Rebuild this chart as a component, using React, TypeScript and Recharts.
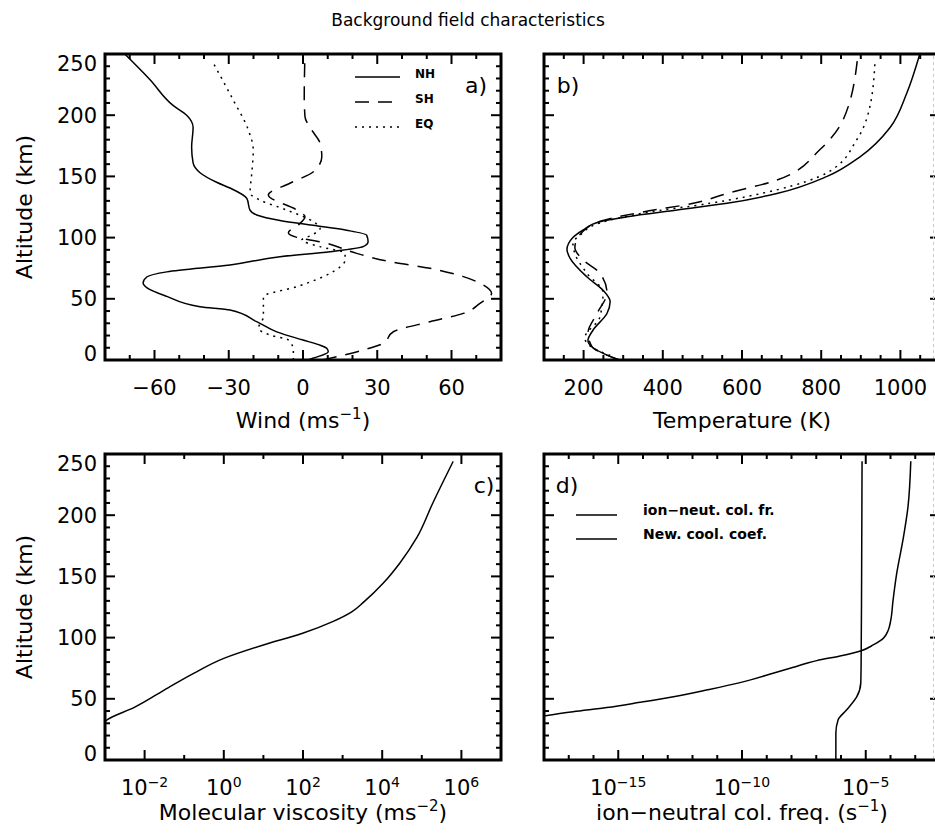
import React from "react";
import { LineChart, Line, XAxis, YAxis, ReferenceArea } from "recharts";

// a) zonal wind (m/s) against altitude (km)
const nhAlt = [0, 1.4, 6.8, 9.5, 12, 16.3, 23, 31.3, 40.8, 43.6, 52, 59, 63, 68, 72, 77.6, 84.4, 88.5, 92.6, 96.7, 102, 106, 110, 114, 118.5, 122.5, 132, 140.5, 145, 153, 161, 174, 190, 200, 208, 229, 250];
const nhWind = [2, 4, 10.2, 9.6, 7, 0, -10.6, -18.7, -29.5, -41.6, -55, -63, -64.6, -63, -55, -29.5, -9.3, 11, 24.3, 26.3, 25.7, 17.6, 4, -9.3, -18.7, -21.4, -22.7, -29.5, -34.7, -41.6, -44.4, -45, -44.4, -47, -52.5, -61.8, -72];
const shAlt = [0, 1.4, 8.2, 13.6, 23.1, 31.3, 38.1, 46.3, 54.5, 61.3, 68.1, 74.9, 80.3, 87.1, 96.6, 100.2, 104, 110.3, 117, 122.5, 134.8, 144.4, 153.8, 166, 177, 188, 198.8, 215, 250];
const shWind = [8, 11, 24.4, 32.4, 36.5, 51.3, 64.8, 71.5, 76.2, 72.8, 64.8, 51.3, 35.2, 21.7, 6.9, -2.5, -5.9, -1.9, 0.8, -2.5, -14, -5.3, 4.2, 7.6, 6.9, 3.5, 0.8, 0.5, 0.8];
const eqAlt = [0, 1.4, 8.2, 16.3, 20.4, 25.9, 35.4, 51.7, 59.9, 70.8, 81.7, 87.1, 92.6, 98, 102, 107.5, 113, 122.5, 130.7, 136.2, 152.5, 171.6, 188, 212.4, 242.4];
const eqWind = [-4, -3.9, -3.9, -5.9, -13.3, -18, -16, -16, -2.5, 10.9, 17, 17, 6.9, -0.5, 3.5, 6.9, 4.2, -6.6, -17.4, -21.4, -20.7, -20.1, -22.1, -28.2, -36.2];

// b) temperature (K)
const nhTAlt = [0, 4, 10, 16, 24.5, 38, 47.6, 57, 68, 83, 90, 100, 106, 113, 117, 122.5, 128, 136, 150, 166, 190, 218, 250];
const nhTemp = [290, 259, 224, 211, 224, 259, 267, 249, 208, 166, 158, 173, 198, 241, 310, 436, 562, 688, 815, 898, 974, 1016, 1049];
const shTAlt = [0, 4, 11, 22, 38, 55, 71, 82, 92, 105, 114, 121, 128, 136, 147, 172, 196, 250];
const shTemp = [290, 259, 221, 211, 234, 259, 241, 198, 178, 198, 249, 350, 477, 562, 688, 797, 855, 893];
const eqTAlt = [0, 2.5, 8, 18, 35, 55, 71, 87, 95.5, 102, 112, 120, 128, 139, 153, 180, 207, 245];
const eqTemp = [280, 274, 234, 203, 241, 249, 208, 178, 173, 191, 241, 350, 519, 688, 815, 890, 923, 936];

// c) molecular viscosity
const viscAlt = [30, 33, 43, 59, 71, 83, 94, 103.5, 113, 121, 129, 144.6, 161, 182, 210, 244];
const viscosity = [8.9e-4, 1.15e-3, 5.5e-3, 0.039, 0.178, 1.0, 10, 98, 560, 1700, 3400, 1.07e4, 2.8e4, 7.6e4, 1.9e5, 6.2e5];

// d) ion-neutral collision frequency and Newtonian cooling coefficient
const ionAlt = [0, 22, 32.7, 41, 51.5, 63, 79, 147, 244];
const ionFreq = [6.2e-7, 6.2e-7, 7.6e-7, 1.7e-6, 4.3e-6, 6.3e-6, 6.5e-6, 6.8e-6, 7.1e-6];
const coolAlt = [34, 39.5, 42.8, 47.1, 51.7, 57.2, 63.2, 70.8, 75.7, 79, 81.2, 85, 89.3, 94, 99.4, 106, 114, 130, 153, 180, 207, 244];
const coolCoef = [2.5e-19, 1.5e-17, 3.4e-16, 7.6e-15, 1.7e-13, 3.7e-12, 8.3e-11, 1.8e-9, 1.2e-8, 4.1e-8, 1.05e-7, 9.1e-7, 6.6e-6, 2.0e-5, 5.1e-5, 8.1e-5, 1.02e-4, 1.26e-4, 1.8e-4, 3.2e-4, 5.1e-4, 6.6e-4];

// ticks
const altTicks = [0, 10, 20, 30, 40, 50, 60, 70, 80, 90, 100, 110, 120, 130, 140, 150, 160, 170, 180, 190, 200, 210, 220, 230, 240, 250];
const altMajor = [0, 50, 100, 150, 200, 250];
const windTicks = [-70, -60, -50, -40, -30, -20, -10, 0, 10, 20, 30, 40, 50, 60, 70];
const windMajor = [-60, -30, 0, 30, 60];
const tempTicks = [150, 200, 250, 300, 350, 400, 450, 500, 550, 600, 650, 700, 750, 800, 850, 900, 950, 1000, 1050];
const tempMajor = [200, 400, 600, 800, 1000];
const viscTicks = [1e-2, 1e-1, 1, 1e1, 1e2, 1e3, 1e4, 1e5, 1e6];
const viscMajor = [1e-2, 1, 1e2, 1e4, 1e6];
const freqTicks = [1e-17, 1e-16, 1e-15, 1e-14, 1e-13, 1e-12, 1e-11, 1e-10, 1e-9, 1e-8, 1e-7, 1e-6, 1e-5, 1e-4, 1e-3];
const freqMajor = [1e-15, 1e-10, 1e-5];

const rows = (alt: number[], val: number[]) => alt.map((a, i) => ({ alt: a, v: val[i] }));

const PW = 396;
const PT = 54;
const PB = 360;
const CH = 430;

const minus = (n: number) => (n < 0 ? `\u2212${-n}` : `${n}`);

function XTick(props: any) {
  const { x, payload, left, majors, log } = props;
  const v = payload.value;
  const major = majors.some((m: number) => Math.abs(m - v) <= Math.abs(m) * 1e-6);
  const len = major ? 10 : 5;
  const edge = Math.abs(x - left) < 1 || Math.abs(x - (left + PW)) < 1;
  const exp = Math.round(Math.log10(v));
  return (
    <g>
      {!edge && <line x1={x} x2={x} y1={PB} y2={PB - len} stroke="#000" strokeWidth={2} />}
      {!edge && <line x1={x} x2={x} y1={PT} y2={PT + len} stroke="#000" strokeWidth={2} />}
      {major && (
        <text x={x} y={PB + 35} textAnchor="middle" fontSize={21} fill="#000">
          {log ? (
            <>
              <tspan>10</tspan>
              <tspan dy={-8} fontSize={14}>{minus(exp)}</tspan>
            </>
          ) : (
            minus(v)
          )}
        </text>
      )}
    </g>
  );
}

function YTick(props: any) {
  const { y, payload, left, labels } = props;
  const v = payload.value;
  const major = altMajor.includes(v);
  const len = major ? 10 : 5;
  const edge = v === 0 || v === 250;
  const nudge = v === 0 ? -7 : v === 250 ? 9 : 0;
  return (
    <g>
      {!edge && <line x1={left} x2={left + len} y1={y} y2={y} stroke="#000" strokeWidth={2} />}
      {!edge && <line x1={left + PW} x2={left + PW - len} y1={y} y2={y} stroke="#000" strokeWidth={2} />}
      {major && labels && (
        <text x={left - 8} y={y + 7.5 + nudge} textAnchor="end" fontSize={21} fill="#000">
          {v}
        </text>
      )}
    </g>
  );
}

type Series = { data: { alt: number; v: number }[]; dash?: string };

function Panel({
  left,
  labels,
  domain,
  ticks,
  majors,
  log,
  series,
}: {
  left: number;
  labels: boolean;
  domain: [number, number];
  ticks: number[];
  majors: number[];
  log?: boolean;
  series: Series[];
}) {
  const width = 520;
  return (
    <LineChart
      width={width}
      height={CH}
      layout="vertical"
      margin={{ top: PT, right: width - left - PW, bottom: 0, left: 0 }}
    >
      <XAxis
        type="number"
        dataKey="v"
        scale={log ? "log" : "linear"}
        domain={domain}
        allowDataOverflow
        ticks={ticks}
        interval={0}
        height={CH - PB}
        axisLine={false}
        tickLine={false}
        tick={(p: any) => <XTick {...p} left={left} majors={majors} log={log} />}
      />
      <YAxis
        type="number"
        dataKey="alt"
        domain={[0, 250]}
        reversed
        allowDataOverflow
        ticks={altTicks}
        interval={0}
        width={left}
        axisLine={false}
        tickLine={false}
        tick={(p: any) => <YTick {...p} left={left} labels={labels} />}
      />
      <ReferenceArea
        x1={domain[0]}
        x2={domain[1]}
        y1={0}
        y2={250}
        fill="none"
        fillOpacity={0}
        stroke="#000"
        strokeWidth={3}
        ifOverflow="visible"
      />
      {series.map((s, i) => (
        <Line
          key={i}
          data={s.data}
          dataKey="v"
          type="monotoneY"
          stroke="#000"
          strokeWidth={1.5}
          strokeDasharray={s.dash}
          dot={false}
          activeDot={false}
          isAnimationActive={false}
        />
      ))}
    </LineChart>
  );
}

const DASH = "14 9";
const DOT = "2 5";

export default function App() {
  const txt = { fill: "#000", fontFamily: '"DejaVu Sans", sans-serif' } as const;
  return (
    <div
      style={{
        position: "absolute",
        left: 0,
        top: 0,
        width: 935,
        height: 833,
        overflow: "hidden",
        background: "#fff",
        fontFamily: '"DejaVu Sans", sans-serif',
      }}
    >
      <div style={{ position: "absolute", left: 0, top: 0 }}>
        <Panel
          left={105}
          labels
          domain={[-80, 80]}
          ticks={windTicks}
          majors={windMajor}
          series={[
            { data: rows(nhAlt, nhWind) },
            { data: rows(shAlt, shWind), dash: DASH },
            { data: rows(eqAlt, eqWind), dash: DOT },
          ]}
        />
      </div>
      <div style={{ position: "absolute", left: 440, top: 0 }}>
        <Panel
          left={104}
          labels={false}
          domain={[100, 1100]}
          ticks={tempTicks}
          majors={tempMajor}
          series={[
            { data: rows(nhTAlt, nhTemp) },
            { data: rows(shTAlt, shTemp), dash: DASH },
            { data: rows(eqTAlt, eqTemp), dash: DOT },
          ]}
        />
      </div>
      <div style={{ position: "absolute", left: 0, top: 400 }}>
        <Panel
          left={105}
          labels
          log
          domain={[1e-3, 1e7]}
          ticks={viscTicks}
          majors={viscMajor}
          series={[{ data: rows(viscAlt, viscosity) }]}
        />
      </div>
      <div style={{ position: "absolute", left: 440, top: 400 }}>
        <Panel
          left={104}
          labels={false}
          log
          domain={[1e-18, 1e-2]}
          ticks={freqTicks}
          majors={freqMajor}
          series={[{ data: rows(ionAlt, ionFreq) }, { data: rows(coolAlt, coolCoef) }]}
        />
      </div>

      <svg
        width={935}
        height={833}
        style={{ position: "absolute", left: 0, top: 0, pointerEvents: "none" }}
      >
        <text x={468} y={26} textAnchor="middle" fontSize={17} {...txt}>
          Background field characteristics
        </text>

        {/* faint dashed edge seen on the right-hand panels */}
        <line x1={933.5} x2={933.5} y1={56} y2={358} stroke="#c8c8c8" strokeWidth={1} strokeDasharray="3 3" />
        <line x1={933.5} x2={933.5} y1={456} y2={758} stroke="#c8c8c8" strokeWidth={1} strokeDasharray="3 3" />

        {/* axis titles */}
        <text x={32} y={207} textAnchor="middle" fontSize={22} transform="rotate(-90 32 207)" {...txt}>
          Altitude (km)
        </text>
        <text x={32} y={607} textAnchor="middle" fontSize={22} transform="rotate(-90 32 607)" {...txt}>
          Altitude (km)
        </text>
        <text x={303} y={428} textAnchor="middle" fontSize={22} {...txt}>
          Wind (ms<tspan dy={-9} fontSize={15}>{"\u22121"}</tspan>
          <tspan dy={9}>)</tspan>
        </text>
        <text x={742} y={428} textAnchor="middle" fontSize={22} {...txt}>
          Temperature (K)
        </text>
        <text x={303} y={820} textAnchor="middle" fontSize={22} {...txt}>
          Molecular viscosity (ms<tspan dy={-9} fontSize={15}>{"\u22122"}</tspan>
          <tspan dy={9}>)</tspan>
        </text>
        <text x={742} y={820} textAnchor="middle" fontSize={22} {...txt}>
          {"ion\u2212neutral col. freq. (s"}
          <tspan dy={-9} fontSize={15}>{"\u22121"}</tspan>
          <tspan dy={9}>)</tspan>
        </text>

        {/* panel letters */}
        <text x={476} y={93} textAnchor="middle" fontSize={22} {...txt}>a)</text>
        <text x={568} y={93} textAnchor="middle" fontSize={22} {...txt}>b)</text>
        <text x={484} y={493} textAnchor="middle" fontSize={22} {...txt}>c)</text>
        <text x={567} y={493} textAnchor="middle" fontSize={22} {...txt}>d)</text>

        {/* legend a) */}
        <line x1={355} x2={400} y1={77} y2={77} stroke="#000" strokeWidth={1.5} />
        <line x1={355} x2={400} y1={102} y2={102} stroke="#000" strokeWidth={1.5} strokeDasharray={DASH} />
        <line x1={355} x2={400} y1={127} y2={127} stroke="#000" strokeWidth={1.5} strokeDasharray={DOT} />
        <text x={415} y={78} fontSize={12} fontWeight="bold" {...txt}>NH</text>
        <text x={415} y={103} fontSize={12} fontWeight="bold" {...txt}>SH</text>
        <text x={415} y={128} fontSize={12} fontWeight="bold" {...txt}>EQ</text>

        {/* legend d) */}
        <line x1={576} x2={617} y1={515} y2={515} stroke="#000" strokeWidth={1.5} />
        <line x1={576} x2={617} y1={539} y2={539} stroke="#000" strokeWidth={1.5} />
        <text x={643} y={515} fontSize={14} fontWeight="bold" {...txt}>
          {"ion\u2212neut. col. fr."}
        </text>
        <text x={643} y={539} fontSize={14} fontWeight="bold" {...txt}>
          New. cool. coef.
        </text>
      </svg>
    </div>
  );
}
